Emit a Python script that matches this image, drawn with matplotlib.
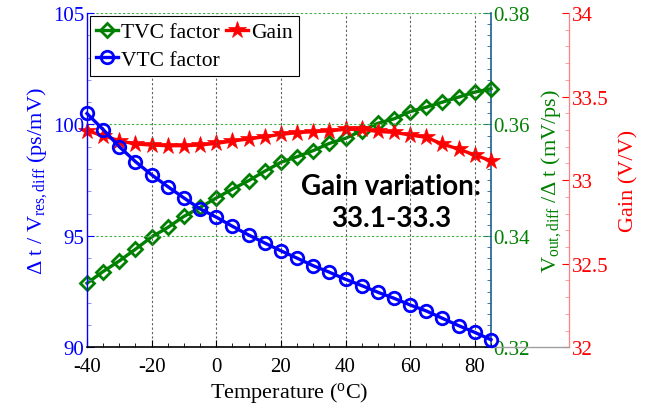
import matplotlib
matplotlib.use("Agg")
import matplotlib.pyplot as plt
from matplotlib.ticker import MultipleLocator

plt.rcParams['font.family'] = ['Liberation Serif', 'DejaVu Sans']
plt.rcParams['mathtext.fontset'] = 'custom'
plt.rcParams['mathtext.rm'] = 'Liberation Serif'
plt.rcParams['mathtext.it'] = 'Liberation Serif:italic'
plt.rcParams['mathtext.bf'] = 'Liberation Serif:bold'

# Temperature sweep (°C)
temperature = [-40, -35, -30, -25, -20, -15, -10, -5, 0, 5, 10, 15, 20,
               25, 30, 35, 40, 45, 50, 55, 60, 65, 70, 75, 80, 85]

# VTC factor (ps/mV), left axis
vtc_factor = [100.49, 99.77, 99.00, 98.33, 97.74, 97.21, 96.70, 96.21, 95.84,
              95.43, 95.04, 94.68, 94.33, 94.00, 93.66, 93.37, 93.05, 92.77,
              92.47, 92.20, 91.90, 91.63, 91.30, 90.97, 90.67, 90.34]

# TVC factor (mV/ps), right axis
tvc_factor = [0.3315, 0.3336, 0.3355, 0.3376, 0.3398, 0.3415, 0.3435, 0.3451,
              0.3468, 0.3484, 0.3499, 0.3516, 0.3532, 0.3542, 0.3553, 0.3566,
              0.3575, 0.3589, 0.3602, 0.3610, 0.3623, 0.3631, 0.3640, 0.3649,
              0.3658, 0.3664]

# Amplifier gain (V/V), outer right axis
gain = [33.296, 33.266, 33.236, 33.216, 33.210, 33.206, 33.206, 33.210, 33.220,
        33.234, 33.246, 33.260, 33.274, 33.284, 33.290, 33.295, 33.304, 33.304,
        33.291, 33.286, 33.270, 33.256, 33.216, 33.186, 33.150, 33.116]

x_ticks = [-40, -20, 0, 20, 40, 60, 80]
left_ticks = [90, 95, 100, 105]
green_ticks = [0.32, 0.34, 0.36, 0.38]
red_ticks = [32, 32.5, 33, 33.5, 34]

BLUE = '#0000ff'
GREEN = '#008000'
RED = '#ff0000'
FS = 15      # tick labels
FL = 16      # axis labels

fig = plt.figure(figsize=(6.52, 4.10), dpi=100)
ax = fig.add_axes([0.1334, 0.1505, 0.6196, 0.8154])
ax2 = ax.twinx()
ax3 = ax.twinx()
ax.set_zorder(ax3.get_zorder() + 1)
ax.patch.set_visible(False)

# Grid lines
for xv in x_ticks[1:]:
    ax.axvline(xv, color='#606060', ls=(0, (2, 2)), lw=0.8, zorder=0)
for yv in left_ticks[1:]:
    ax.axhline(yv, color='#3cb043', ls=(0, (2, 2)), lw=0.8, zorder=0)

lw = 2.4
ms = 9
mew = 2.0
l_vtc, = ax.plot(temperature, vtc_factor, color=BLUE, lw=lw, marker='o', ms=ms,
                 mfc='none', mec=BLUE, mew=mew, clip_on=False, zorder=3,
                 label='VTC factor')
l_tvc, = ax2.plot(temperature, tvc_factor, color=GREEN, lw=lw, marker='D', ms=ms - 1.5,
                  mfc='none', mec=GREEN, mew=mew, clip_on=False, zorder=3,
                  label='TVC factor')
l_gain, = ax3.plot(temperature, gain, color=RED, lw=lw, marker='*', ms=ms + 4,
                   mfc=RED, mec=RED, mew=0.5, clip_on=False, zorder=3,
                   label='Gain')

ax.set_xlim(-40, 85)
ax.set_ylim(90, 105)
ax2.set_ylim(0.32, 0.38)
ax3.set_ylim(32, 34)

ax.set_xticks(x_ticks)
ax.xaxis.set_minor_locator(MultipleLocator(5))
ax.set_yticks(left_ticks)
ax.yaxis.set_minor_locator(MultipleLocator(1))
ax2.set_yticks(green_ticks)
ax2.yaxis.set_minor_locator(MultipleLocator(0.002))
ax3.set_yticks(red_ticks)
ax3.yaxis.set_minor_locator(MultipleLocator(0.1))

ax.tick_params(axis='x', which='both', direction='in', labelsize=FS, colors='black')
ax.tick_params(axis='x', which='major', length=5, pad=7)
ax.tick_params(axis='x', which='minor', length=3)
ax.tick_params(axis='y', which='both', direction='in', labelsize=FS,
               colors=BLUE, pad=2)
ax.tick_params(axis='y', which='major', length=5)
ax.tick_params(axis='y', which='minor', length=3, color='#8080ff')
ax2.tick_params(axis='y', which='both', direction='in', labelsize=FS,
                colors=GREEN, pad=2)
ax2.tick_params(axis='y', which='major', length=5, color='#1f5f8f')
ax2.tick_params(axis='y', which='minor', length=3, color='#1f5f8f')
ax3.tick_params(axis='y', which='both', direction='in', labelsize=FS,
                colors=RED, pad=2)
ax3.tick_params(axis='y', which='major', length=5)
ax3.tick_params(axis='y', which='minor', length=3, color='#ff9090')

ax.set_xticklabels([str(v) for v in x_ticks])
ax.set_yticklabels([str(v) for v in left_ticks])
ax2.set_yticklabels(['0.32', '0.34', '0.36', '0.38'])
ax3.set_yticklabels(['32', '32.5', '33', '33.5', '34'])

# Spines
for a in (ax, ax2, ax3):
    a.spines['top'].set_visible(False)
ax.spines['left'].set_color(BLUE)
ax.spines['left'].set_linewidth(1.0)
ax.spines['bottom'].set_color('black')
ax.spines['bottom'].set_linewidth(1.2)
ax.spines['right'].set_visible(False)
ax2.spines['left'].set_visible(False)
ax2.spines['bottom'].set_visible(False)
ax2.spines['right'].set_color('#1f5f8f')
ax2.spines['right'].set_linewidth(1.2)
ax3.spines['left'].set_visible(False)
ax3.spines['bottom'].set_visible(False)
ax3.spines['right'].set_position(('axes', 1.193))
ax3.spines['right'].set_color('#ff8080')
ax3.spines['right'].set_linewidth(0.9)
ax.plot([1.0, 1.193], [0, 0], transform=ax.transAxes, color='#a0a0a0', lw=1.0,
        clip_on=False, zorder=1)

ax.set_xlabel(r'Temperature ($^{\rm o}$C)', fontsize=FL, labelpad=3)
ax.set_ylabel(r'$\Delta$ t / V$_{\rm res,diff}$ (ps/mV)', fontsize=FL, color=BLUE,
              labelpad=3)
ax2.set_ylabel(r'V$_{\rm out,diff}$ /$\Delta$ t (mV/ps)', fontsize=FL, color=GREEN,
               labelpad=6)
ax3.set_ylabel('Gain (V/V)', fontsize=FL, color=RED, labelpad=8)

leg = ax.legend(handles=[l_tvc, l_vtc, l_gain], loc='upper left', ncol=2,
                fontsize=15.5, frameon=True, fancybox=False, framealpha=1,
                edgecolor='black', handlelength=1.0, handletextpad=0.15,
                columnspacing=0.3, borderpad=0.3, labelspacing=0.35,
                borderaxespad=0.12)
leg.get_frame().set_linewidth(0.8)
leg.set_zorder(10)

ax.text(0.752, 0.435, 'Gain variation:\n33.1-33.3', transform=ax.transAxes,
        ha='center', va='center', fontsize=20, fontweight='bold',
        family=['Lato', 'DejaVu Sans'], linespacing=1.3, zorder=6)

fig.savefig('out.png', dpi=100)
